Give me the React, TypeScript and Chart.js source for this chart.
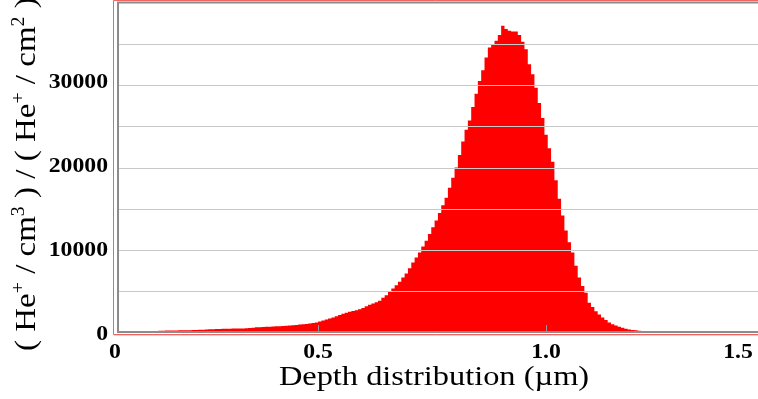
import React, { useEffect, useRef } from "react";
import { Chart, registerables } from "chart.js";

Chart.register(...registerables);

// Histogram binning (depth in µm)
const BIN_START = 0.0768;
const BIN_WIDTH = 0.0073;

// He+ concentration per bin, (He+/cm3)/(He+/cm2)
const COUNTS = [
  150, 160, 170, 170, 180, 190, 190, 200, 220, 230,
  250, 260, 270, 290, 300, 300, 310, 320, 330, 330,
  340, 350, 360, 380, 400, 420, 440, 460, 470, 490,
  500, 510, 520, 530, 530, 540, 550, 560, 600, 640,
  670, 690, 710, 730, 750, 770, 790, 800, 830, 860,
  880, 910, 950, 1000, 1040, 1080, 1130, 1180, 1250, 1380,
  1500, 1620, 1720, 1850, 2000, 2150, 2300, 2420, 2520, 2620,
  2720, 2840, 2980, 3200, 3350, 3500, 3650, 3850, 4200, 4500,
  4900, 5300, 5700, 6100, 6600, 7100, 7700, 8400, 9000, 9600,
  10300, 11000, 11800, 12600, 13400, 14300, 15200, 16100, 17300, 18500,
  19700, 21200, 22800, 24200, 25300, 26900, 28500, 30000, 31300, 32800,
  34000, 34400, 34800, 35500, 36600, 36200, 36000, 35900, 35900, 35500,
  34700, 33800, 32000, 30800, 29200, 27400, 25600, 23600, 22000, 20400,
  18200, 16000, 14000, 12200, 10800, 9600, 8000, 6600, 5600, 4800,
  3600, 3100, 2600, 2200, 1850, 1550, 1250, 1050, 900, 750,
  620, 500, 420, 360, 320, 280,
];

const X_MIN = 0.0614;
const X_MAX = 1.465;
const Y_MAX = 39300;
const Y_GRID_STEP = 5000;

const X_TICK_VALUES = [0, 0.5, 1.0, 1.5];
const X_TICK_LABELS = ["0", "0.5", "1.0", "1.5"];
const Y_TICK_VALUES = [0, 10000, 20000, 30000];
const Y_TICK_LABELS = ["0", "10000", "20000", "30000"];

const X_TITLE = "Depth distribution (µm)";
// [text, isSuperscript]
const Y_TITLE_PARTS: [string, boolean][] = [
  ["( He", false],
  ["+", true],
  [" / cm", false],
  ["3", true],
  [" ) / ( He", false],
  ["+", true],
  [" / cm", false],
  ["2", true],
  [" )", false],
];

const SERIF = '"Liberation Serif", "Times New Roman", serif';

function drawStretched(
  ctx: CanvasRenderingContext2D,
  text: string,
  x: number,
  y: number,
  font: string,
  sx: number,
  align: "left" | "center" | "right",
  baseline: CanvasTextBaseline
) {
  ctx.save();
  ctx.font = font;
  ctx.textBaseline = baseline;
  ctx.textAlign = "left";
  const w = ctx.measureText(text).width * sx;
  let x0 = x;
  if (align === "center") x0 = x - w / 2;
  if (align === "right") x0 = x - w;
  ctx.translate(x0, y);
  ctx.scale(sx, 1);
  ctx.fillText(text, 0, 0);
  ctx.restore();
}

const framePlugin = {
  id: "framePlugin",
  afterDraw(chart: any) {
    const { ctx, chartArea: a, scales } = chart;
    const xs = scales.x;
    const ys = scales.y;
    const W = chart.width;
    ctx.save();

    // outer red frame
    ctx.strokeStyle = "rgb(240,100,100)";
    ctx.lineWidth = 1;
    ctx.beginPath();
    ctx.moveTo(W, a.top - 2.5);
    ctx.lineTo(a.left - 4.5, a.top - 2.5);
    ctx.lineTo(a.left - 4.5, a.bottom + 1.5);
    ctx.lineTo(W, a.bottom + 1.5);
    ctx.stroke();
    ctx.strokeStyle = "rgb(255,200,200)";
    ctx.beginPath();
    ctx.moveTo(a.left - 4, a.bottom + 2.5);
    ctx.lineTo(W, a.bottom + 2.5);
    ctx.stroke();

    // inner gray frame
    ctx.strokeStyle = "#8c8c8c";
    ctx.lineWidth = 2;
    ctx.beginPath();
    ctx.moveTo(W, a.top - 0.5);
    ctx.lineTo(a.left, a.top - 0.5);
    ctx.lineTo(a.left, a.bottom - 1);
    ctx.lineTo(W, a.bottom - 1);
    ctx.stroke();

    // inner tick marks
    ctx.strokeStyle = "#9a9a9a";
    ctx.lineWidth = 1;
    X_TICK_VALUES.forEach((v) => {
      if (v <= X_MIN || v >= X_MAX) return;
      const px = Math.round(xs.getPixelForValue(v)) + 0.5;
      ctx.beginPath();
      ctx.moveTo(px, a.bottom - 8);
      ctx.lineTo(px, a.bottom - 2);
      ctx.stroke();
    });

    ctx.fillStyle = "#000";
    const tickFont = `bold 21px ${SERIF}`;
    // x tick labels
    X_TICK_VALUES.forEach((v, i) => {
      let px = xs.getPixelForValue(v);
      px = Math.max(a.left - 3, Math.min(a.right - 20, px));
      drawStretched(ctx, X_TICK_LABELS[i], px, a.bottom + 25, tickFont, 1.13, "center", "alphabetic");
    });
    // y tick labels
    Y_TICK_VALUES.forEach((v, i) => {
      const py = ys.getPixelForValue(v);
      drawStretched(ctx, Y_TICK_LABELS[i], a.left - 10, py + 7, tickFont, 1.13, "right", "alphabetic");
    });

    // x title
    drawStretched(ctx, X_TITLE, (a.left + a.right) / 2 - 4, a.bottom + 52, `27px ${SERIF}`, 1.2, "center", "alphabetic");

    // y title (rotated, with superscripts)
    const F = 30;
    const sx = 1.1;
    const mainFont = `${F}px ${SERIF}`;
    const supFont = `${Math.round(F * 0.6)}px ${SERIF}`;
    ctx.save();
    ctx.translate(0, a.bottom + 18);
    ctx.rotate(-Math.PI / 2);
    ctx.scale(sx, 1);
    ctx.textBaseline = "alphabetic";
    ctx.textAlign = "left";
    let cx = 0;
    Y_TITLE_PARTS.forEach(([t, sup]) => {
      ctx.font = sup ? supFont : mainFont;
      ctx.fillText(t, cx, sup ? 35 - F * 0.36 : 35);
      cx += ctx.measureText(t).width;
    });
    ctx.restore();

    ctx.restore();
  },
};

export default function App() {
  const ref = useRef<HTMLCanvasElement>(null);
  useEffect(() => {
    document.body.style.margin = "0";
    const points = COUNTS.map((c, i) => ({ x: BIN_START + BIN_WIDTH * i, y: c }));
    points.push({ x: BIN_START + BIN_WIDTH * COUNTS.length, y: 0 });
    const chart = new Chart(ref.current as HTMLCanvasElement, {
      type: "line",
      data: {
        datasets: [
          {
            data: points,
            stepped: "after",
            fill: "origin",
            backgroundColor: "#ff0000",
            borderColor: "rgba(0,0,0,0)",
            borderWidth: 0,
            pointRadius: 0,
          },
        ],
      },
      options: {
        animation: false,
        responsive: true,
        maintainAspectRatio: false,
        layout: { padding: { top: 3, left: 0, right: 0, bottom: 0 } },
        plugins: { legend: { display: false }, tooltip: { enabled: false } },
        scales: {
          x: {
            type: "linear",
            min: X_MIN,
            max: X_MAX,
            ticks: { display: false },
            grid: { display: false },
            border: { display: false },
            afterFit: (s: any) => {
              s.height = 66;
            },
          },
          y: {
            min: 0,
            max: Y_MAX,
            z: 1,
            ticks: { display: false, stepSize: Y_GRID_STEP },
            grid: {
              z: 1,
              drawTicks: false,
              lineWidth: 1,
              color: (c: any) =>
                c.tick && c.tick.value > 0 && c.tick.value < Y_MAX ? "#c8c8c8" : "rgba(0,0,0,0)",
            },
            border: { display: false },
            afterFit: (s: any) => {
              s.width = 118;
            },
          },
        },
      },
      plugins: [framePlugin],
    } as any);
    return () => chart.destroy();
  }, []);
  return (
    <div style={{ position: "relative", width: 758, height: 399 }}>
      <canvas ref={ref} />
    </div>
  );
}
